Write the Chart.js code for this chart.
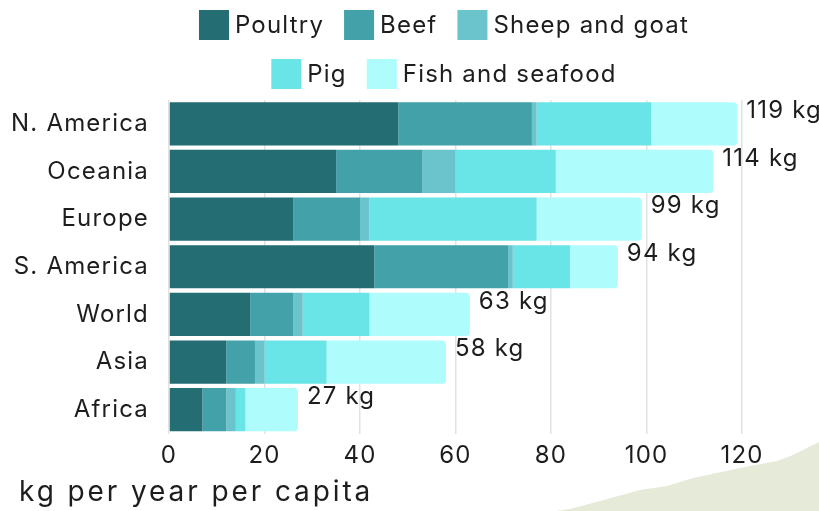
<!DOCTYPE html>
<html>
<head>
<meta charset="utf-8">
<script src="https://cdn.jsdelivr.net/npm/chart.js@4.4.1/dist/chart.umd.min.js"></script>
<style>
  html, body { margin: 0; padding: 0; background: #ffffff; }
  #wrap { width: 819px; height: 511px; position: relative; overflow: hidden; }
</style>
</head>
<body>
<div id="wrap"><canvas id="chart" width="819" height="511"></canvas></div>
<script>
// Meat and seafood supply per person, by region (kg per year)
const regions = ['N. America', 'Oceania', 'Europe', 'S. America', 'World', 'Asia', 'Africa'];
const poultry     = [48, 35, 26, 43, 17, 12, 7];
const beef        = [28, 18, 14, 28,  9,  6, 5];
const sheepGoat   = [ 1,  7,  2,  1,  2,  2, 2];
const pig         = [24, 21, 35, 12, 14, 13, 2];
const fishSeafood = [18, 33, 22, 10, 21, 25, 11];
const xTicks = [0, 20, 40, 60, 80, 100, 120];
const unitLabel = 'kg per year per capita';
const legendRows = [['Poultry', 'Beef', 'Sheep and goat'], ['Pig', 'Fish and seafood']];

const FONT = 'Inter, "DejaVu Sans", sans-serif';
const INK = '#1d1d1d';
const TRACKING = '1.2px';

const seriesStyle = [
  { label: 'Poultry',          data: poultry,     color: '#236d73' },
  { label: 'Beef',             data: beef,        color: '#42a1a9' },
  { label: 'Sheep and goat',   data: sheepGoat,   color: '#6bc3cb' },
  { label: 'Pig',              data: pig,         color: '#69e4e7' },
  { label: 'Fish and seafood', data: fishSeafood, color: '#aefcfc' }
];

const datasets = seriesStyle.map((s, i) => ({
  label: s.label,
  data: s.data,
  backgroundColor: s.color,
  borderWidth: 0,
  borderRadius: i === seriesStyle.length - 1 ? 4 : 0,
  borderSkipped: 'start',
  barPercentage: 0.907,
  categoryPercentage: 1.0
}));

// white page and a soft hill in the lower right corner, behind everything;
// also sets the wide letter tracking used by all chart text
const backdrop = {
  id: 'backdrop',
  beforeDraw(chart) {
    const ctx = chart.ctx;
    ctx.letterSpacing = TRACKING;
    ctx.save();
    ctx.fillStyle = '#ffffff';
    ctx.fillRect(0, 0, chart.width, chart.height);
    ctx.fillStyle = '#e6ead8';
    ctx.beginPath();
    ctx.moveTo(556, 511);
    ctx.lineTo(570, 509);
    ctx.lineTo(600, 501);
    ctx.lineTo(640, 490);
    ctx.lineTo(667, 486);
    ctx.lineTo(693, 478);
    ctx.lineTo(750, 466);
    ctx.lineTo(777, 461);
    ctx.lineTo(793, 455);
    ctx.lineTo(819, 442);
    ctx.lineTo(819, 511);
    ctx.closePath();
    ctx.fill();
    ctx.restore();
  }
};

// total at the end of each stacked bar
const totals = {
  id: 'totals',
  afterDatasetsDraw(chart) {
    const ctx = chart.ctx;
    const xs = chart.scales.x, ys = chart.scales.y;
    ctx.save();
    ctx.font = '24px ' + FONT;
    ctx.fillStyle = INK;
    ctx.textAlign = 'left';
    ctx.textBaseline = 'middle';
    regions.forEach((r, i) => {
      const sum = chart.data.datasets.reduce((a, d) => a + d.data[i], 0);
      const x = xs.getPixelForValue(sum) + 9;
      const y = ys.getPixelForValue(i) - 13;
      ctx.fillText(sum + ' kg', x, y);
    });
    ctx.restore();
  }
};

// two-row legend centred above the plot, plus the unit caption below
const legendAndCaption = {
  id: 'legendAndCaption',
  afterDraw(chart) {
    const ctx = chart.ctx;
    ctx.save();
    ctx.font = '24px ' + FONT;
    ctx.textBaseline = 'middle';
    ctx.textAlign = 'left';
    const box = 30, gap = 6, itemGap = 20, centreX = 444;
    const rowY = [25, 74];
    legendRows.forEach((row, ri) => {
      const items = row.map(name => {
        const ds = chart.data.datasets.find(d => d.label === name);
        return { name, color: ds.backgroundColor, w: box + gap + ctx.measureText(name).width };
      });
      const total = items.reduce((a, it) => a + it.w, 0) + itemGap * (items.length - 1);
      let x = centreX - total / 2;
      items.forEach(it => {
        ctx.fillStyle = it.color;
        ctx.fillRect(x, rowY[ri] - box / 2, box, box);
        ctx.fillStyle = INK;
        ctx.fillText(it.name, x + box + gap, rowY[ri] + 1);
        x += it.w + itemGap;
      });
    });
    ctx.font = '28px ' + FONT;
    ctx.letterSpacing = '2.9px';
    ctx.textBaseline = 'alphabetic';
    ctx.fillStyle = INK;
    ctx.fillText(unitLabel, 19, 501);
    ctx.restore();
  }
};

new Chart(document.getElementById('chart'), {
  type: 'bar',
  data: { labels: regions, datasets },
  options: {
    indexAxis: 'y',
    responsive: false,
    animation: false,
    events: [],
    layout: { padding: { top: 100, right: 77, bottom: 37.5, left: 0 } },
    scales: {
      x: {
        stacked: true,
        min: 0,
        max: 120,
        afterBuildTicks(scale) { scale.ticks = xTicks.map(v => ({ value: v })); },
        afterFit(scale) { scale.height = 40; },
        grid: { color: '#e2e2e2', lineWidth: 1.5, drawTicks: false },
        border: { display: false },
        ticks: { padding: 8, color: INK, font: { family: FONT, size: 24 } }
      },
      y: {
        stacked: true,
        afterFit(scale) { scale.width = 169; },
        grid: { display: false },
        border: { display: false },
        ticks: { padding: 12, color: INK, font: { family: FONT, size: 24 } }
      }
    },
    plugins: {
      legend: { display: false },
      tooltip: { enabled: false },
      title: { display: false }
    }
  },
  plugins: [backdrop, totals, legendAndCaption]
});
</script>
</body>
</html>
